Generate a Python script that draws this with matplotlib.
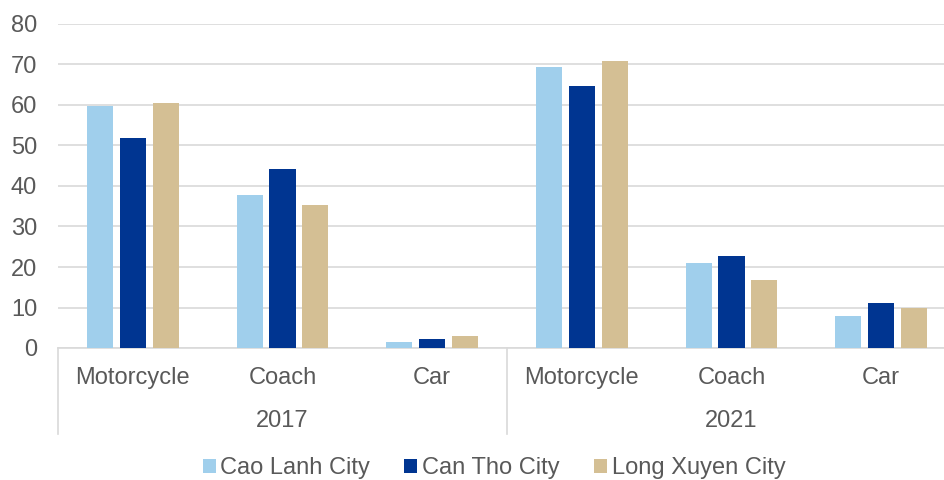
import numpy as np
import matplotlib
matplotlib.use('Agg')
import matplotlib.pyplot as plt
from matplotlib.patches import Patch

plt.rcParams['font.family'] = ['Liberation Sans', 'DejaVu Sans']

years = ['2017', '2021']
modes = ['Motorcycle', 'Coach', 'Car']
cities = ['Cao Lanh City', 'Can Tho City', 'Long Xuyen City']
colors = ['#A0CFEC', '#003591', '#D4BF94']

# values per city, order: 2017 Motorcycle/Coach/Car, 2021 Motorcycle/Coach/Car
cao_lanh = [59.8, 37.7, 1.5, 69.3, 21.0, 7.8]
can_tho = [51.9, 44.3, 2.3, 64.6, 22.6, 11.2]
long_xuyen = [60.5, 35.2, 2.9, 70.8, 16.7, 9.8]
series = [cao_lanh, can_tho, long_xuyen]

text_col = '#595959'
grid_col = '#D9D9D9'
fs = 17

fig = plt.figure(figsize=(9.44, 4.8), dpi=100)
ax = fig.add_axes([58/944, 132/480, 898/944, 324/480])

x = np.arange(len(modes) * len(years))
bw = 0.174
step = 0.22
for i, (vals, c, name) in enumerate(zip(series, colors, cities)):
    ax.bar(x + (i - 1) * step, vals, width=bw, color=c, label=name, zorder=3)

ax.set_ylim(0, 80)
ax.set_yticks(range(0, 81, 10))
ax.set_xlim(-0.5, len(x) - 0.5)
ax.set_xticks(x)
ax.set_xticklabels(modes * len(years))
ax.grid(axis='y', color=grid_col, linewidth=1.2, zorder=0)
ax.tick_params(axis='y', length=0, pad=15, labelsize=fs, labelcolor=text_col)
ax.tick_params(axis='x', length=0, pad=14, labelsize=fs, labelcolor=text_col)
for s in ['left', 'right', 'top']:
    ax.spines[s].set_visible(False)
ax.spines['bottom'].set_color(grid_col)
ax.spines['bottom'].set_linewidth(1.2)

# second level of the category axis
trans = ax.get_xaxis_transform()
for k, yr in enumerate(years):
    ax.text(k * 3 + 1, -0.225, yr, transform=trans, ha='center', va='center',
            fontsize=fs, color=text_col)
for xs in [-0.5, 2.5, 5.5]:
    ax.plot([xs, xs], [0, -0.265], transform=trans, color=grid_col,
            linewidth=1.2, clip_on=False)

handles = [Patch(facecolor=c, label=n) for c, n in zip(colors, cities)]
fig.legend(handles=handles, loc='center', bbox_to_anchor=(494/944, 12/480), ncol=3,
           frameon=False, fontsize=fs, handlelength=0.55, handleheight=0.55,
           handletextpad=0.2, columnspacing=1.45, labelcolor=text_col)

fig.savefig('out.png', dpi=100)
